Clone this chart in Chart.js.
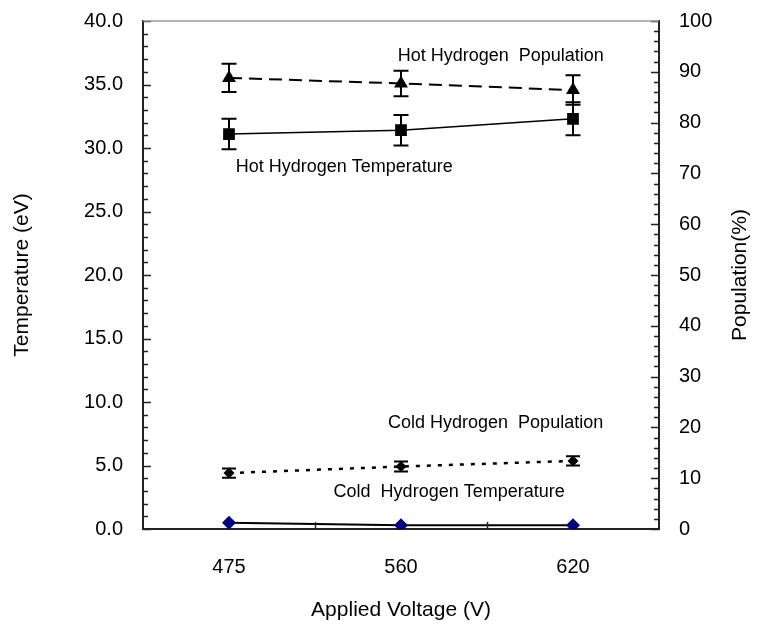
<!DOCTYPE html>
<html>
<head>
<meta charset="utf-8">
<script src="https://cdn.jsdelivr.net/npm/chart.js@4/dist/chart.umd.min.js"></script>
<style>
  body { margin: 0; background: #fff; }
  #chart { display: block; }
</style>
</head>
<body>
<canvas id="chart" width="757" height="630"></canvas>
<script>
// values
var voltages = ['475', '560', '620'];

var hotTemp = [31.1, 31.4, 32.3];
var hotTempErr = [1.2, 1.2, 1.3];

var hotPop = [88.8, 87.7, 86.4];
var hotPopErr = [2.8, 2.5, 2.9];

var coldTemp = [0.5, 0.3, 0.3];

var coldPop = [11.0, 12.3, 13.4];
var coldPopErr = [0.9, 1.0, 0.9];

// curve names, anchored at (category index, value, axis)
var labelTexts = ['Hot Hydrogen  Population', 'Hot Hydrogen Temperature', 'Cold Hydrogen  Population', 'Cold  Hydrogen Temperature'];
var labelIdx = [1.58, 0.67, 1.55, 1.28];
var labelVal = [93.1, 28.5, 20.9, 2.9];
var labelAxis = ['y2', 'y', 'y2', 'y'];

var FONT = '"Liberation Sans", Arial, sans-serif';
Chart.defaults.font.family = FONT;
Chart.defaults.color = '#000';

// vertical error bars with caps
var errorBars = {
    id: 'errorBars',
    afterDatasetsDraw(chart) {
        var ctx = chart.ctx;
        chart.data.datasets.forEach((ds, i) => {
            if (!ds.errors) return;
            var meta = chart.getDatasetMeta(i);
            var yScale = chart.scales[ds.yAxisID];
            ctx.save();
            ctx.strokeStyle = '#000';
            ctx.lineWidth = 2;
            meta.data.forEach((pt, j) => {
                var top = yScale.getPixelForValue(ds.data[j] + ds.errors[j]);
                var bot = yScale.getPixelForValue(ds.data[j] - ds.errors[j]);
                var w = ds.capWidth / 2;
                ctx.beginPath();
                ctx.moveTo(pt.x, top);
                ctx.lineTo(pt.x, bot);
                ctx.moveTo(pt.x - w, top);
                ctx.lineTo(pt.x + w, top);
                ctx.moveTo(pt.x - w, bot);
                ctx.lineTo(pt.x + w, bot);
                ctx.stroke();
            });
            ctx.restore();
        });
    }
};

// inward tick marks, top frame line, curve labels, right axis title
var frame = {
    id: 'frame',
    afterDraw(chart) {
        var ctx = chart.ctx;
        var area = chart.chartArea;
        var y = chart.scales.y, y2 = chart.scales.y2, x = chart.scales.x;
        ctx.save();
        ctx.strokeStyle = '#222';
        ctx.lineWidth = 1.5;
        ctx.beginPath();
        for (var v = 0; v <= 40; v += 1) {
            var p = Math.round(y.getPixelForValue(v)) + 0.5;
            ctx.moveTo(area.left, p);
            ctx.lineTo(area.left + (v % 5 === 0 ? 8 : 5), p);
        }
        for (var v = 0; v <= 100; v += 2) {
            var p = Math.round(y2.getPixelForValue(v)) + 0.5;
            ctx.moveTo(area.right, p);
            ctx.lineTo(area.right - (v % 10 === 0 ? 8 : 5), p);
        }
        for (var k = 0; k < voltages.length - 1; k++) {
            var px = Math.round(x.getPixelForValue(k + 0.5)) + 0.5;
            ctx.moveTo(px, area.bottom);
            ctx.lineTo(px, area.bottom - 7);
        }
        ctx.stroke();

        ctx.strokeStyle = '#999';
        ctx.lineWidth = 1.5;
        ctx.beginPath();
        ctx.moveTo(area.left, area.top);
        ctx.lineTo(area.right, area.top);
        ctx.stroke();

        ctx.fillStyle = '#000';
        ctx.font = '18px ' + FONT;
        ctx.textAlign = 'center';
        ctx.textBaseline = 'middle';
        labelTexts.forEach((t, i) => {
            ctx.fillText(t, x.getPixelForValue(labelIdx[i]), chart.scales[labelAxis[i]].getPixelForValue(labelVal[i]));
        });

        ctx.font = '21px ' + FONT;
        ctx.translate(chart.width - 17, (area.top + area.bottom) / 2);
        ctx.rotate(-Math.PI / 2);
        ctx.fillText('Population(%)', 0, 0);
        ctx.restore();
    }
};

// fixed axis sizes so the plot box sits where the reference has it
function fixWidth(w) {
    return function(scale) {
        scale.width = w;
        scale.paddingTop = 0;
        scale.paddingBottom = 0;
    };
}

new Chart(document.getElementById('chart'), {
    type: 'line',
    data: {
        labels: voltages,
        datasets: [{
            label: 'Hot Hydrogen Temperature',
            data: hotTemp,
            errors: hotTempErr,
            capWidth: 15,
            yAxisID: 'y',
            borderColor: '#000',
            borderWidth: 1.5,
            pointStyle: 'rect',
            pointRadius: 8.3,
            pointBackgroundColor: '#000',
            pointBorderWidth: 0
        }, {
            label: 'Hot Hydrogen Population',
            data: hotPop,
            errors: hotPopErr,
            capWidth: 15,
            yAxisID: 'y2',
            borderColor: '#000',
            borderWidth: 2,
            borderDash: [13, 7],
            pointStyle: 'triangle',
            pointRadius: 8,
            pointBackgroundColor: '#000',
            pointBorderWidth: 0
        }, {
            label: 'Cold Hydrogen Population',
            data: coldPop,
            errors: coldPopErr,
            capWidth: 14,
            yAxisID: 'y2',
            borderColor: '#000',
            borderWidth: 2.5,
            borderDash: [4, 7],
            pointStyle: 'rectRot',
            pointRadius: 5.5,
            pointBackgroundColor: '#000',
            pointBorderWidth: 0
        }, {
            label: 'Cold Hydrogen Temperature',
            data: coldTemp,
            yAxisID: 'y',
            borderColor: '#000',
            borderWidth: 2,
            pointStyle: 'rectRot',
            pointRadius: 7,
            pointBackgroundColor: '#000080',
            pointBorderColor: '#000080',
            pointBorderWidth: 0
        }]
    },
    options: {
        responsive: false,
        animation: false,
        events: [],
        layout: { padding: { top: 21, left: 0, right: 0, bottom: 0 } },
        plugins: {
            legend: { display: false },
            tooltip: { enabled: false }
        },
        scales: {
            x: {
                offset: true,
                grid: { display: false, drawTicks: false },
                border: { display: true, color: '#222', width: 2 },
                ticks: { padding: 26, font: { size: 20 } },
                title: { display: true, text: 'Applied Voltage (V)', font: { size: 21 }, padding: { top: 0, bottom: 7 } },
                afterFit(scale) {
                    scale.height = 101;
                    scale.paddingLeft = 0;
                    scale.paddingRight = 0;
                }
            },
            y: {
                position: 'left',
                min: 0,
                max: 40,
                grid: { display: false, drawTicks: false },
                border: { display: true, color: '#222', width: 2 },
                ticks: {
                    stepSize: 5,
                    padding: 20,
                    font: { size: 20 },
                    callback: v => v.toFixed(1)
                },
                title: { display: true, text: 'Temperature (eV)', font: { size: 21 }, padding: { top: 10, bottom: 0 } },
                afterFit: fixWidth(143)
            },
            y2: {
                position: 'right',
                min: 0,
                max: 100,
                grid: { display: false, drawTicks: false },
                border: { display: true, color: '#222', width: 2 },
                ticks: { stepSize: 10, padding: 20, font: { size: 20 } },
                afterFit: fixWidth(98)
            }
        }
    },
    plugins: [errorBars, frame]
});
</script>
</body>
</html>
